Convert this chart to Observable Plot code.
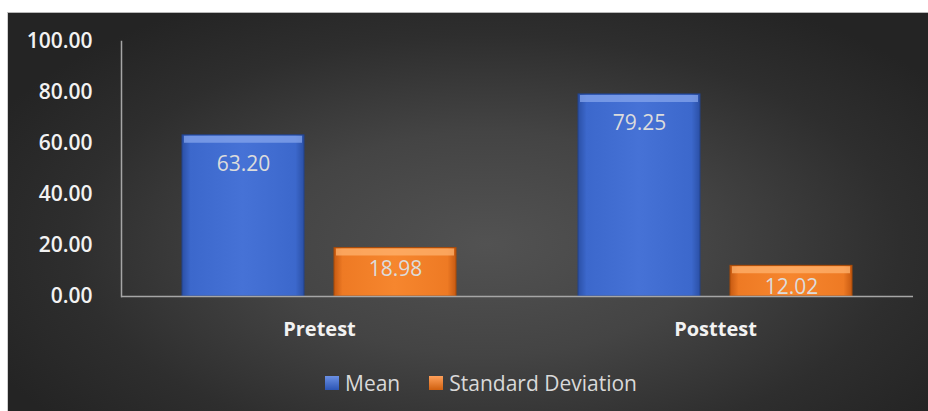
<!DOCTYPE html>
<html>
<head>
<meta charset="utf-8">
<script src="https://cdn.jsdelivr.net/npm/d3@7"></script>
<script src="https://cdn.jsdelivr.net/npm/@observablehq/plot@0.6"></script>
<style>
  html, body { margin: 0; padding: 0; background: #fff; width: 928px; height: 411px; overflow: hidden; }
  #chart {
    position: absolute; left: 7px; top: 12px; width: 920px; height: 398px;
    border-top: 1px solid #b8b8b8; border-left: 1px solid #cfcfcf;
    background: radial-gradient(ellipse 60% 70% at 52% 58%, #525252 0%, #444 40%, #2e2e2e 75%, #242424 100%);
    font-family: "Open Sans", sans-serif;
  }
  #legend {
    position: absolute; left: 317px; top: 356px; display: flex; align-items: center;
    color: #d9d9d9; font-size: 21px; font-family: "Open Sans", sans-serif;
  }
  .sw { width: 14px; height: 14px; margin-right: 6px; display: inline-block; }
  .item { display: flex; align-items: center; margin-right: 29px; }
</style>
</head>
<body>
<div id="chart"></div>
<script>
const categories = ["Pretest", "Posttest"];
const seriesNames = ["Mean", "Standard Deviation"];
const meanValues = [63.20, 79.25];
const sdValues = [18.98, 12.02];
const yTicks = [0, 20, 40, 60, 80, 100];

const rows = [];
categories.forEach((c, i) => {
  rows.push({cat: c, series: seriesNames[0], value: meanValues[i]});
  rows.push({cat: c, series: seriesNames[1], value: sdValues[i]});
});

const fillFor = s => s === "Mean" ? "url(#gBlue)" : "url(#gOrange)";
const topFor = s => s === "Mean" ? "#86a6ec" : "#ffb36f";

const plot = Plot.plot({
  width: 920,
  height: 341,
  marginLeft: 112,
  marginRight: 15,
  marginTop: 28,
  marginBottom: 58,
  style: {background: "transparent", fontFamily: "Open Sans, sans-serif", overflow: "visible"},
  fx: {domain: categories, paddingInner: 0, paddingOuter: 0, label: null, axis: null},
  x: {domain: seriesNames, paddingInner: 0.2, paddingOuter: 0.4, axis: null},
  y: {domain: [0, 100], axis: null, label: null},
  marks: [
    Plot.barY(rows, {fx: "cat", x: "series", y: "value", fill: d => fillFor(d.series), stroke: d => d.series === "Mean" ? "#22428a" : "#a84a08", strokeWidth: 1}),
    Plot.tickY(rows, {fx: "cat", x: "series", y: "value", stroke: d => topFor(d.series), strokeWidth: 7, dy: 4, insetLeft: 2, insetRight: 2, strokeOpacity: 0.75}),
    Plot.text(rows.filter(d => d.series === "Mean"), {fx: "cat", x: "series", y: "value", text: d => d.value.toFixed(2), lineAnchor: "top", dy: 21, fill: "#dcdcdc", fontSize: 21}),
    Plot.text(rows.filter(d => d.series !== "Mean"), {fx: "cat", x: "series", y: "value", text: d => d.value.toFixed(2), lineAnchor: "top", dy: 13, fill: "#dcdcdc", fontSize: 21}),
    Plot.ruleY([0], {stroke: "#a6a6a6", strokeWidth: 1.5}),
    Plot.frame({anchor: "left", facetAnchor: "left", stroke: "#a6a6a6", strokeWidth: 1.5}),
    Plot.axisY(yTicks, {tickSize: 0, tickPadding: 29, tickFormat: d => d.toFixed(2), fontSize: 21, fontWeight: 600, fill: "#f2f2f2", label: null}),
    Plot.axisFx({anchor: "bottom", tickSize: 0, tickPadding: 25, fontSize: 20, fontWeight: 700, fill: "#f2f2f2", label: null})
  ]
});

const svg = d3.select(plot);
const defs = svg.insert("defs", ":first-child");
function grad(id, stops) {
  const g = defs.append("linearGradient").attr("id", id).attr("x1", "0").attr("x2", "1").attr("y1", "0").attr("y2", "0");
  stops.forEach(([o, c]) => g.append("stop").attr("offset", o).attr("stop-color", c));
}
grad("gBlue", [["0", "#2b50a6"], ["0.07", "#3c68cc"], ["0.5", "#4672d6"], ["0.93", "#3c68cc"], ["1", "#2b50a6"]]);
grad("gOrange", [["0", "#c75a12"], ["0.07", "#ee7a24"], ["0.5", "#f6862e"], ["0.93", "#ee7a24"], ["1", "#c75a12"]]);

const chart = document.getElementById("chart");
chart.appendChild(plot);

const legend = document.createElement("div");
legend.id = "legend";
const legendFills = ["linear-gradient(#6b90e4, #2c55b4)", "linear-gradient(#ffa05a, #d0600f)"];
seriesNames.forEach((s, i) => {
  const item = document.createElement("div");
  item.className = "item";
  const sw = document.createElement("span");
  sw.className = "sw";
  sw.style.background = legendFills[i];
  const t = document.createElement("span");
  t.textContent = s;
  item.appendChild(sw); item.appendChild(t);
  legend.appendChild(item);
});
chart.appendChild(legend);
</script>
</body>
</html>
